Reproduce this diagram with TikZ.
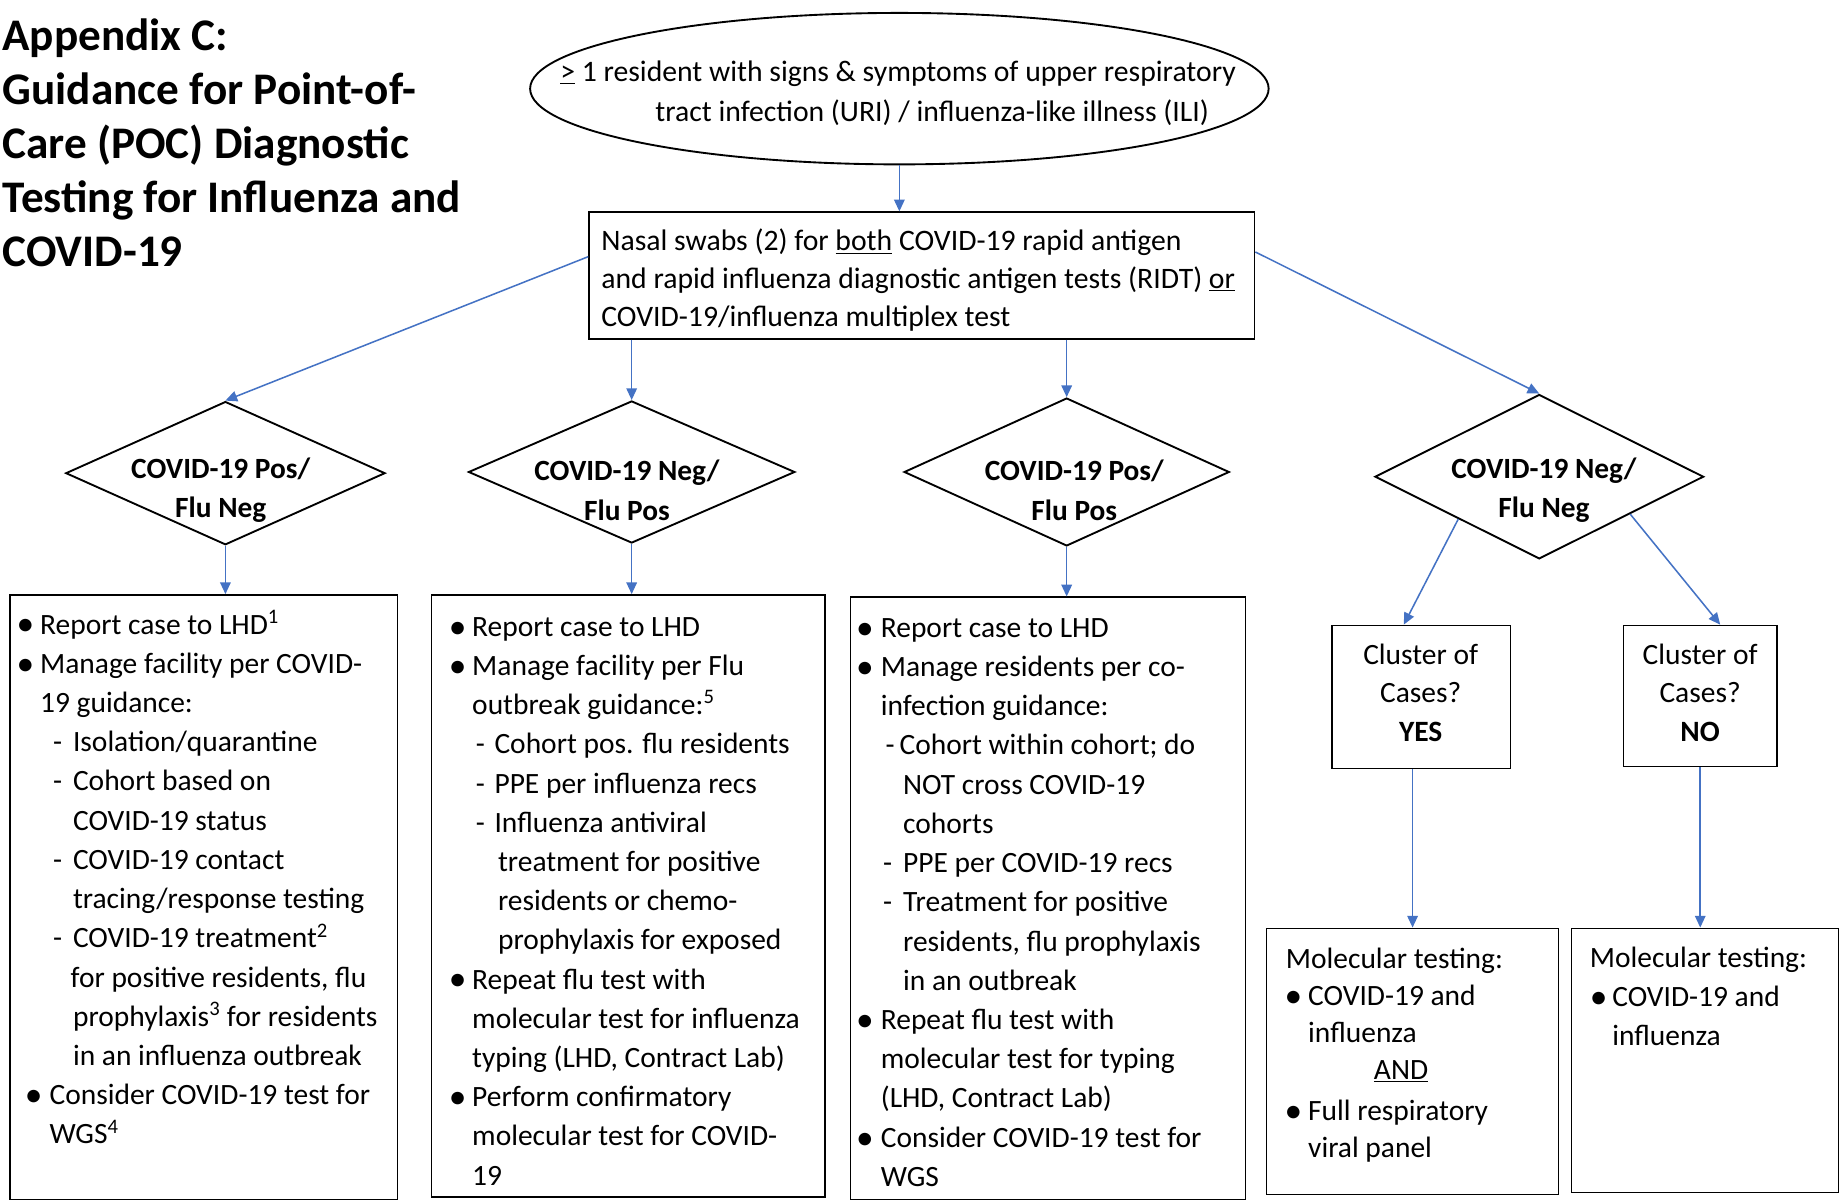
\documentclass[tikz,border=0pt]{standalone}
\usepackage{fontspec}
\usepackage{graphicx}
\setmainfont{Carlito}
\usetikzlibrary{shapes.geometric,arrows.meta,calc}
\definecolor{arrowblue}{RGB}{68,114,196}
\newcommand{\bodyfont}{\fontsize{25.1}{33.4}\selectfont}
\newcommand{\bigbul}{\raisebox{-1.6pt}{\scalebox{1.2}{\textbullet}}}
\newcommand{\bl}[1][20pt]{\makebox[#1][l]{\bigbul}}
\newcommand{\dl}[1][17pt]{\makebox[#1][l]{-}}
\newcommand{\ind}[1]{\hspace*{#1}}
\tikzset{
  box/.style={draw, line width=1.2pt, inner sep=0pt, anchor=north west},
  txt/.style={anchor=north west, align=left, inner sep=0pt, font=\bodyfont},
  ctxt/.style={align=center, inner sep=0pt, font=\fontsize{25.1}{32.5}\selectfont},
  dtxt/.style={align=center, inner sep=0pt, font=\fontsize{25}{34}\selectfont\bfseries},
  dia/.style={draw, diamond, line width=1.6pt, inner sep=0pt},
  arr/.style={draw=arrowblue, line width=1.3pt, -{Triangle[length=10pt,width=9pt]}}
}
\begin{document}
\begin{tikzpicture}[x=1pt,y=-1pt]
\fill[white] (0,0) rectangle (1568,1023);
\useasboundingbox (0,0) rectangle (1568,1023);

% title
\node[anchor=north west, align=left, inner sep=0pt, font=\fontsize{38.5}{46}\selectfont\bfseries] (title) at (2,15.5)
 {Appendix C:\\Guidance for Point-of-\\Care (POC) Diagnostic\\Testing for Influenza and\\COVID-19};

% start ellipse
\node[draw, ellipse, line width=1.6pt, minimum width=629pt, minimum height=129pt, inner sep=0pt] (start) at (766,75.5) {};
\node[txt, font=\fontsize{25.3}{34}\selectfont] (starttxt) at (477,52) {\underline{>} 1 resident with signs \& symptoms of upper respiratory\\\ind{81pt}tract infection (URI) / influenza-like illness (ILI)};

% swab box
\node[box, minimum width=567pt, minimum height=108pt] (swab) at (501,180) {};
\node[txt, font=\fontsize{25.3}{32}\selectfont] (swabtxt) at (512,195) {Nasal swabs (2) for \underline{both} COVID-19 rapid antigen\\and rapid influenza diagnostic antigen tests (RIDT) \underline{or}\\COVID-19/influenza multiplex test};

% diamonds
\node[dia, minimum width=272pt, minimum height=122pt] (d1) at (192,403) {};
\node[dia, minimum width=278pt, minimum height=121pt] (d2) at (538,402) {};
\node[dia, minimum width=277pt, minimum height=126pt] (d3) at (908.5,402) {};
\node[dia, minimum width=280pt, minimum height=140pt] (d4) at (1311,406) {};
\node[dtxt] (d1t) at (188,417.5) {COVID-19 Pos/\\Flu Neg};
\node[dtxt] (d2t) at (534,417.5) {COVID-19 Neg/\\Flu Pos};
\node[dtxt] (d3t) at (915,417.5) {COVID-19 Pos/\\Flu Pos};
\node[dtxt] (d4t) at (1315,417.5) {COVID-19 Neg/\\Flu Neg};

% result boxes
\node[box, minimum width=330pt, minimum height=515pt] (b1) at (8,506) {};
\node[box, minimum width=335pt, minimum height=513pt] (b2) at (367,506) {};
\node[box, minimum width=336pt, minimum height=513pt] (b3) at (724,508) {};

\node[txt] (t1) at (14,519.5) {%
\bl Report case to LHD\textsuperscript{1}\\
\bl Manage facility per COVID-\\
\ind{20pt}19 guidance:\\
\ind{31pt}\dl Isolation/quarantine\\
\ind{31pt}\dl Cohort based on\\
\ind{48pt}COVID-19 status\\
\ind{31pt}\dl COVID-19 contact\\
\ind{48pt}tracing/response testing\\
\ind{31pt}\dl COVID-19 treatment\textsuperscript{2}\\
\ind{46pt}for positive residents, flu\\
\ind{48pt}prophylaxis\textsuperscript{3} for residents\\
\ind{48pt}in an influenza outbreak\\
\ind{7pt}\bl[21pt]Consider COVID-19 test for\\
\ind{28pt}WGS\textsuperscript{4}};

\node[txt] (t2) at (382,525.5) {%
\bl Report case to LHD\\
\bl Manage facility per Flu\\
\ind{20pt}outbreak guidance:\textsuperscript{5}\\
\ind{23pt}\dl[16pt]Cohort pos. flu residents\\
\ind{23pt}\dl[16pt]PPE per influenza recs\\
\ind{23pt}\dl[16pt]Influenza antiviral\\
\ind{42pt}treatment for positive\\
\ind{42pt}residents or chemo-\\
\ind{42pt}prophylaxis for exposed\\
\bl Repeat flu test with\\
\ind{20pt}molecular test for influenza\\
\ind{20pt}typing (LHD, Contract Lab)\\
\bl Perform confirmatory\\
\ind{20pt}molecular test for COVID-\\
\ind{20pt}19};

\node[txt] (t3) at (731,526.5) {%
\ind{-2pt}\bl[21pt]Report case to LHD\\
\ind{-2pt}\bl[21pt]Manage residents per co-\\
\ind{19pt}infection guidance:\\
\ind{23pt}\dl[12pt]Cohort within cohort; do\\
\ind{38pt}NOT cross COVID-19\\
\ind{38pt}cohorts\\
\ind{21pt}\dl[17pt]PPE per COVID-19 recs\\
\ind{21pt}\dl[17pt]Treatment for positive\\
\ind{38pt}residents, flu prophylaxis\\
\ind{38pt}in an outbreak\\
\ind{-2pt}\bl[21pt]Repeat flu test with\\
\ind{19pt}molecular test for typing\\
\ind{19pt}(LHD, Contract Lab)\\
\ind{-2pt}\bl[21pt]Consider COVID-19 test for\\
\ind{19pt}WGS};

% cluster boxes
\node[box, minimum width=152pt, minimum height=122pt] (cy) at (1134,532) {};
\node[box, minimum width=131pt, minimum height=120pt] (cn) at (1382,532) {};
\node[ctxt] (cyt) at (1210,590) {Cluster of\\Cases?\\\textbf{YES}};
\node[ctxt] (cnt) at (1448,590) {Cluster of\\Cases?\\\textbf{NO}};

% molecular boxes
\node[box, minimum width=249pt, minimum height=227pt] (my) at (1078,790) {};
\node[box, minimum width=227pt, minimum height=225pt] (mn) at (1338,790) {};
\node[txt, font=\fontsize{25.1}{31.5}\selectfont] (myt) at (1094,807) {%
\ind{1pt}Molecular testing:\\
\bl COVID-19 and\\
\ind{20pt}influenza\\
\ind{76pt}\underline{AND}\\[3.5pt]
\bl Full respiratory\\
\ind{20pt}viral panel};
\node[txt] (mnt) at (1354,806) {%
Molecular testing:\\
\bl[19pt]COVID-19 and\\
\ind{19pt}influenza};

% connectors
\draw[arr] (start.south) -- (start.south |- swab.north);
\draw[arr] ([yshift=16pt]swab.west) -- (d1.north);
\draw[arr] (d2.north |- swab.south) -- (d2.north);
\draw[arr] (d3.north |- swab.south) -- (d3.north);
\draw[arr] ([yshift=20pt]swab.east) -- (d4.north);
\draw[arr] (d1.south) -- (d1.south |- b1.north);
\draw[arr] (d2.south) -- (d2.south |- b2.north);
\draw[arr] (d3.south) -- (d3.south |- b3.north);
\draw[arr] ($(d4.west)!0.51!(d4.south)$) -- ([xshift=-15pt]cy.north);
\draw[arr] ($(d4.south)!0.55!(d4.east)$) -- ([xshift=17pt]cn.north);
\draw[arr] (cy.south -| my.north) -- (my.north);
\draw[arr] (cn.south) -- (cn.south |- mn.north);
\end{tikzpicture}
\end{document}
